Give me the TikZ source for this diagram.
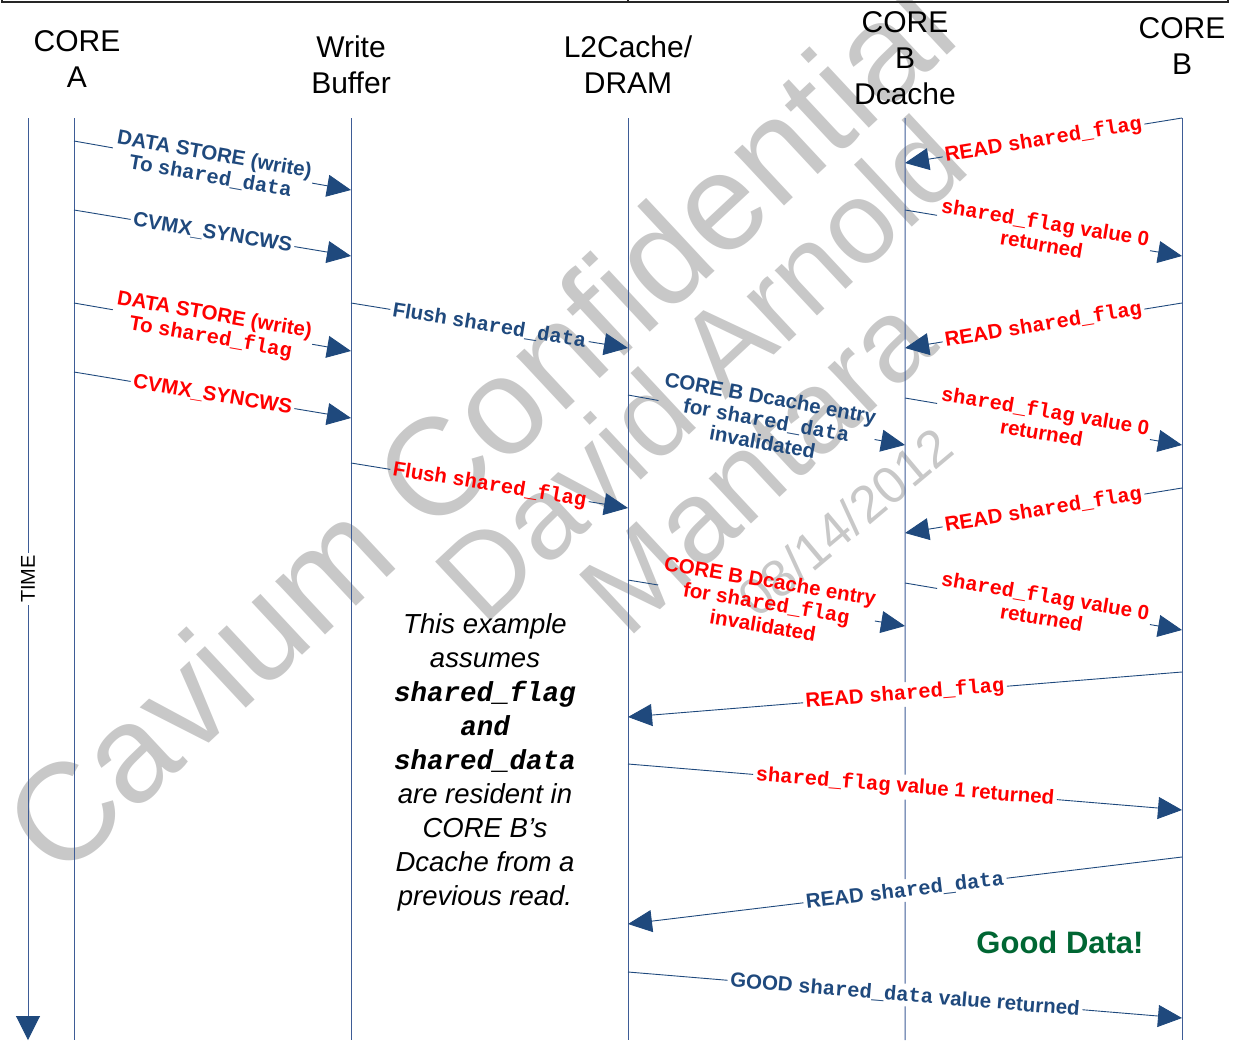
\documentclass[tikz,border=0pt]{standalone}
\usepackage{fontspec}
\setmainfont{Liberation Sans}
\newfontfamily\cdfont{Liberation Mono}
\usetikzlibrary{arrows.meta}

\definecolor{navy}{RGB}{31,73,125}
\definecolor{lifec}{RGB}{62,92,150}
\definecolor{wmgray}{RGB}{200,200,200}
\definecolor{gooddata}{RGB}{0,102,51}

% code identifiers in bold monospace
\newcommand\cd[1]{{\cdfont\bfseries #1}}
\newcommand\cdi[1]{{\cdfont\bfseries\itshape #1}}

% one message: label name, start, end, text style, text
\newcommand\seqmsg[5]{%
  \path (#2) -- node[lbl,#4] (#1) {#5} (#3);
  \draw[wire] (#2) -- (#1);
  \draw[wire,tip] (#1) -- (#3);
}

\begin{document}
\begin{tikzpicture}[x=1pt,y=-1pt,
  lifeline/.style={draw=lifec,line width=1pt},
  wire/.style={draw=navy,line width=0.9pt},
  tip/.style={-{Triangle[length=24pt,width=22pt]}},
  lbl/.style={font=\fontsize{20.5}{22.5}\selectfont\bfseries,align=center,inner sep=2.5pt,sloped},
  bluetxt/.style={text=navy},
  redtxt/.style={text=red},
  head/.style={font=\fontsize{30}{36}\selectfont,align=center,inner sep=0pt},
  wmark/.style={text=wmgray,font=\fontsize{#1}{#1}\selectfont,inner sep=0pt}]

\useasboundingbox (0,0) rectangle (1233,1057);

% watermark
\node[wmark=138,rotate=43] (wm1) at (478,425) {Cavium Confidential};
\node[wmark=117,rotate=43] (wm2) at (700,368) {David Arnold};
\node[wmark=117,rotate=43] (wm3) at (757,465) {Mantara};
\node[wmark=52,rotate=40] (wm4) at (845,522) {08/14/2012};

% edge of the frame above
\draw[line width=1.2pt,black!85] (2,-5) -- (2,2) -- (1228,2) -- (1228,-5);
\draw[line width=1.2pt,black!85] (628,-5) -- (628,2);

% column heads
\node[head] (hA) at (77,59) {CORE\\A};
\node[head] (hW) at (351,65) {Write\\Buffer};
\node[head] (hL) at (628,65) {L2Cache/\\DRAM};
\node[head] (hD) at (905,58) {CORE\\B\\Dcache};
\node[head] (hB) at (1182,46) {CORE\\B};

% lifelines
\coordinate (Ttop) at (28,118);  \coordinate (Tbot) at (28,1040);
\coordinate (Atop) at (74,118);  \coordinate (Abot) at (74,1040);
\coordinate (Wtop) at (351,118); \coordinate (Wbot) at (351,1040);
\coordinate (Ltop) at (628,118); \coordinate (Lbot) at (628,1040);
\coordinate (Dtop) at (905,118); \coordinate (Dbot) at (905,1040);
\coordinate (Btop) at (1182,118); \coordinate (Bbot) at (1182,1040);

\draw[lifeline] (Atop) -- (Abot);
\draw[lifeline] (Wtop) -- (Wbot);
\draw[lifeline] (Ltop) -- (Lbot);
\draw[lifeline] (Btop) -- (Bbot);

% time axis
\node[font=\fontsize{20}{20}\selectfont,rotate=90,inner sep=2pt] (time) at (28,579) {TIME};
\draw[lifeline] (Ttop) -- (time);
\draw[lifeline,-{Triangle[length=24pt,width=24pt,color=navy]}] (time) -- (Tbot);

% message end points
\coordinate (s1) at (74,141);   \coordinate (e1) at (351,190);
\coordinate (s2) at (74,210);   \coordinate (e2) at (351,256);
\coordinate (s3) at (74,303);   \coordinate (e3) at (351,351);
\coordinate (s4) at (74,372);   \coordinate (e4) at (351,418);
\coordinate (s5) at (351,303);  \coordinate (e5) at (628,348);
\coordinate (s6) at (351,463);  \coordinate (e6) at (628,508);
\coordinate (s7) at (628,395);  \coordinate (e7) at (905,445);
\coordinate (s8) at (628,580);  \coordinate (e8) at (905,626);
\coordinate (s9) at (1182,118); \coordinate (e9) at (905,163);
\coordinate (s10) at (905,210); \coordinate (e10) at (1182,256);
\coordinate (s11) at (1182,303); \coordinate (e11) at (905,348);
\coordinate (s12) at (905,398); \coordinate (e12) at (1182,445);
\coordinate (s13) at (1182,488); \coordinate (e13) at (905,533);
\coordinate (s14) at (905,583); \coordinate (e14) at (1182,630);
\coordinate (s15) at (1182,672); \coordinate (e15) at (628,717);
\coordinate (s16) at (628,764); \coordinate (e16) at (1182,810);
\coordinate (s17) at (1182,857); \coordinate (e17) at (628,924);
\coordinate (s18) at (628,972); \coordinate (e18) at (1182,1018);

% core A -> write buffer
\seqmsg{m1}{s1}{e1}{bluetxt}{DATA STORE (write)\\To \cd{shared\_data}}
\seqmsg{m2}{s2}{e2}{bluetxt}{CVMX\_SYNCWS}
\seqmsg{m3}{s3}{e3}{redtxt}{DATA STORE (write)\\To \cd{shared\_flag}}
\seqmsg{m4}{s4}{e4}{redtxt}{CVMX\_SYNCWS}

% write buffer -> L2
\seqmsg{m5}{s5}{e5}{bluetxt}{Flush \cd{shared\_data}}
\seqmsg{m6}{s6}{e6}{redtxt}{Flush \cd{shared\_flag}}

% L2 -> core B Dcache
\seqmsg{m7}{s7}{e7}{bluetxt}{CORE B Dcache entry\\for \cd{shared\_data}\\invalidated}
\seqmsg{m8}{s8}{e8}{redtxt}{CORE B Dcache entry\\for \cd{shared\_flag}\\invalidated}

% core B polling its Dcache
\seqmsg{m9}{s9}{e9}{redtxt}{READ \cd{shared\_flag}}
\seqmsg{m10}{s10}{e10}{redtxt}{\cd{shared\_flag} value 0\\returned}
\seqmsg{m11}{s11}{e11}{redtxt}{READ \cd{shared\_flag}}
\seqmsg{m12}{s12}{e12}{redtxt}{\cd{shared\_flag} value 0\\returned}
\seqmsg{m13}{s13}{e13}{redtxt}{READ \cd{shared\_flag}}
\seqmsg{m14}{s14}{e14}{redtxt}{\cd{shared\_flag} value 0\\returned}

% core B <-> L2
\seqmsg{m15}{s15}{e15}{redtxt}{READ \cd{shared\_flag}}
\seqmsg{m16}{s16}{e16}{redtxt}{\cd{shared\_flag} value 1 returned}
\seqmsg{m17}{s17}{e17}{bluetxt}{READ \cd{shared\_data}}
\seqmsg{m18}{s18}{e18}{bluetxt}{GOOD \cd{shared\_data} value returned}

% Dcache lifeline, broken by the long labels
\draw[lifeline] (Dtop) -- (m15);
\draw[lifeline] (m15) -- (m16);
\draw[lifeline] (m16) -- (m17);
\draw[lifeline] (m17) -- (m18);
\draw[lifeline] (m18) -- (Dbot);

% note and result
\node[font=\fontsize{27.5}{34}\selectfont\itshape,align=center] (note) at (485,762)
  {This example\\assumes\\\cdi{shared\_flag}\\\cdi{and}\\\cdi{shared\_data}\\are resident in\\CORE B’s\\Dcache from a\\previous read.};
\node[font=\fontsize{31}{31}\selectfont\bfseries,text=gooddata] (good) at (1060,942) {Good Data!};

\end{tikzpicture}
\end{document}
